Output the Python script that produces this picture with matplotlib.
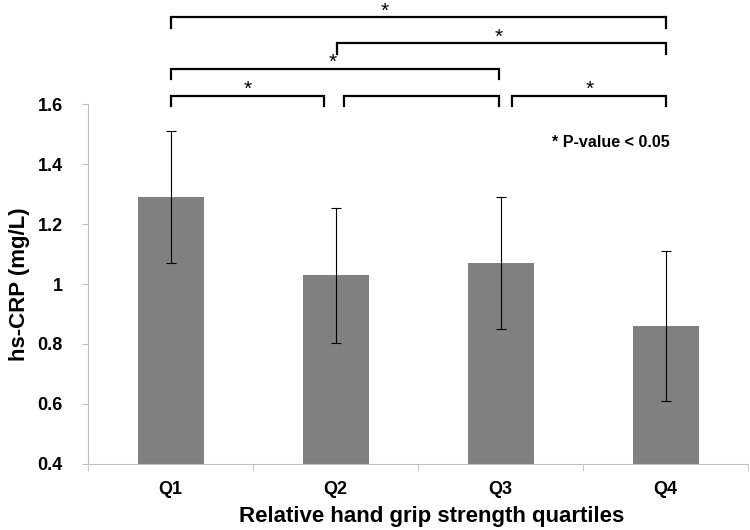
import matplotlib
matplotlib.use('Agg')
import matplotlib.pyplot as plt
import numpy as np

# data
groups = ['Q1', 'Q2', 'Q3', 'Q4']
crp_mean = [1.29, 1.03, 1.07, 0.86]
crp_err = [0.22, 0.225, 0.22, 0.25]

# significance brackets: (left, right, height of bar, star x, has star)
brackets = [
    (0.0, 3.0, 1.89, 1.30, True),
    (1.01, 3.0, 1.803, 1.99, True),
    (0.0, 1.99, 1.717, 0.98, True),
    (0.0, 0.93, 1.627, 0.47, True),
    (1.05, 1.99, 1.627, None, False),
    (2.07, 3.0, 1.627, 2.54, True),
]

plt.rcParams['font.family'] = ['Liberation Sans', 'DejaVu Sans']

fig = plt.figure(figsize=(7.5, 5.3), dpi=100)
ax = fig.add_axes([88 / 750, 1 - 464 / 530, 660 / 750, 360 / 530])

x = np.arange(len(groups))
ax.bar(x, crp_mean, width=0.4, color='#808080', zorder=2)
ax.errorbar(x, crp_mean, yerr=crp_err, fmt='none', ecolor='black',
            elinewidth=0.8, capsize=3.5, capthick=0.8, zorder=3)

ax.set_xlim(-0.5, 3.5)
ax.set_ylim(0.4, 1.6)
ax.set_yticks([0.4, 0.6, 0.8, 1.0, 1.2, 1.4, 1.6])
ax.set_yticklabels(['0.4', '0.6', '0.8', '1', '1.2', '1.4', '1.6'],
                   fontsize=13, fontweight='bold')
ax.set_xticks(x)
ax.set_xticklabels(groups, fontsize=13, fontweight='bold')
ax.set_xticks([-0.5, 0.5, 1.5, 2.5, 3.5], minor=True)
ax.tick_params(axis='x', which='major', length=0, pad=12)
ax.tick_params(axis='x', which='minor', length=5, color='#bfbfbf', direction='out')
ax.tick_params(axis='y', length=4, color='#bfbfbf', pad=14)

for s in ['top', 'right']:
    ax.spines[s].set_visible(False)
for s in ['left', 'bottom']:
    ax.spines[s].set_color('#bfbfbf')

ax.set_xlabel('Relative hand grip strength quartiles', fontsize=16,
              fontweight='bold')
ax.xaxis.set_label_coords(0.52, -0.118)
ax.set_ylabel('hs-CRP (mg/L)', fontsize=16, fontweight='bold')
ax.yaxis.set_label_coords(-0.088, 0.5)

drop = 0.035
for left, right, h, sx, star in brackets:
    ax.plot([left, left, right, right], [h - drop, h, h, h - drop],
            color='black', lw=1.6, clip_on=False, solid_joinstyle='miter')
    if star:
        ax.text(sx, h + 0.002, '*', ha='center', va='baseline', fontsize=15)

ax.text(2.315, 1.473, '* P-value < 0.05', fontsize=11.6, fontweight='bold',
        ha='left', va='center')

fig.savefig('out.png', dpi=100)
